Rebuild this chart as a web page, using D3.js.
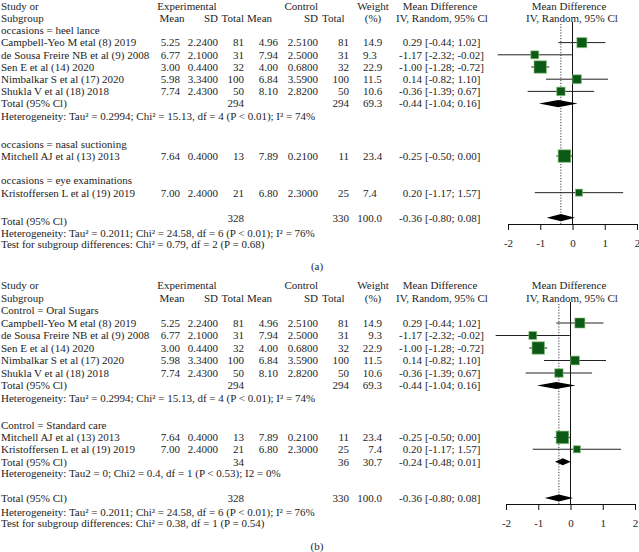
<!DOCTYPE html>
<html><head><meta charset="utf-8">
<script src="https://cdn.jsdelivr.net/npm/d3@7"></script>
<style>
body{margin:0;background:#fff}
svg text{font-family:"Liberation Serif","Times New Roman",serif;font-size:11px;fill:#1e1e1e}
</style>
</head><body>
<svg id="chart" width="639" height="552"></svg>
<script>
// ---------- data ----------
const studies = ["Campbell-Yeo M etal (8) 2019","de Sousa Freire NB et al (9) 2008","Sen E et al (14) 2020","Nimbalkar S et al (17) 2020","Shukla V et al (18) 2018","Mitchell AJ et al (13) 2013","Kristoffersen L et al (19) 2019"];
const expMean = [5.25, 6.77, 3.00, 5.98, 7.74, 7.64, 7.00];
const expSD   = [2.24, 2.10, 0.44, 3.34, 2.43, 0.40, 2.40];
const expN    = [81, 31, 32, 100, 50, 13, 21];
const ctrlMean= [4.96, 7.94, 4.00, 6.84, 8.10, 7.89, 6.80];
const ctrlSD  = [2.51, 2.50, 0.68, 3.59, 2.82, 0.21, 2.30];
const ctrlN   = [81, 31, 32, 100, 50, 11, 25];
const weights = [14.9, 9.3, 22.9, 11.5, 10.6, 23.4, 7.4];
const md      = [0.29, -1.17, -1.00, 0.14, -0.36, -0.25, 0.20];
const mdLo    = [-0.44, -2.32, -1.28, -0.82, -1.39, -0.50, -1.17];
const mdHi    = [1.02, -0.02, -0.72, 1.10, 0.67, 0.00, 1.57];

const groupsA = ["occasions = heel lance","occasions = nasal suctioning","occasions = eye examinations"];
const membersA = [[0,1,2,3,4],[5],[6]];
const groupsB = ["Control = Oral Sugars","Control = Standard care"];
const membersB = [[0,1,2,3,4],[5,6]];

// subgroup totals: heel lance / oral sugars, standard care
const subExpN  = [294, 34];
const subCtrlN = [294, 36];
const subW     = [69.3, 30.7];
const subMD    = [-0.44, -0.24];
const subLo    = [-1.04, -0.48];
const subHi    = [0.16, 0.01];
const subHet   = ["Heterogeneity: Tau\u00b2 = 0.2994; Chi\u00b2 = 15.13, df = 4 (P < 0.01); I\u00b2 = 74%",
                  "Heterogeneity: Tau2 = 0; Chi2 = 0.4, df = 1 (P < 0.53); I2 = 0%"];

const totExpN = 328, totCtrlN = 330, totW = 100.0, totMD = -0.36, totLo = -0.80, totHi = 0.08;
const totHet = "Heterogeneity: Tau\u00b2 = 0.2011; Chi\u00b2 = 24.58, df = 6 (P < 0.01); I\u00b2 = 76%";
const testA = "Test for subgroup differences: Chi\u00b2 = 0.79, df = 2 (P = 0.68)";
const testB = "Test for subgroup differences: Chi\u00b2 = 0.38, df = 1 (P = 0.54)";
const tickValues = [-2, -1, 0, 1, 2];
const panelLabels = ["(a)", "(b)"];

// ---------- helpers ----------
const loc = d3.formatLocale({decimal:".", thousands:",", grouping:[3], currency:["",""], minus:"-"});
const f2 = loc.format(".2f"), f4 = loc.format(".4f"), f1 = loc.format(".1f"), fT = loc.format("d");
const svg = d3.select("#chart");

const col = {study:1, expMean:180, expSD:218, expN:244, ctrlMean:278, ctrlSD:318, ctrlN:349,
             mdEst:422, mdCI:425};

function txt(g, x, y, s, anchor){
  g.append("text").attr("x", x).attr("y", y).attr("dy", "0.35em")
   .attr("text-anchor", anchor || "start").text(s);
}

function drawPanel(cfg){
  const g = svg.append("g");
  const y = d3.scaleLinear().domain([0, 1]).range([cfg.y0, cfg.y0 + cfg.unit]);
  const x = d3.scaleLinear().domain([-2, 2]).range(cfg.xr);
  const wAnchor = cfg.weightAnchor, wX = cfg.weightAnchor === "start" ? 363 : 382;

  // headers
  txt(g, col.study, y(0), "Study or");
  txt(g, col.study, y(1), "Subgroup");
  txt(g, 187, y(0), "Experimental", "middle");
  txt(g, 172, y(1), "Mean", "middle");
  txt(g, col.expSD, y(1), "SD", "end");
  txt(g, col.expN, y(1), "Total", "end");
  txt(g, 247, y(1), "Mean", "start");
  txt(g, col.ctrlSD, y(0), "Control", "end");
  txt(g, col.ctrlSD, y(1), "SD", "end");
  txt(g, 322, y(1), "Total", "start");
  txt(g, 373, y(0), "Weight", "middle");
  txt(g, 373, y(1), "(%)", "middle");
  txt(g, 440, y(0), "Mean Difference", "middle");
  txt(g, 442, y(1), "IV, Random, 95% Cl", "middle");
  txt(g, 569, y(0), "Mean Difference", "middle");
  txt(g, 572, y(1), "IV, Random, 95% Cl", "middle");

  const plot = g.append("g");
  // reference lines
  plot.append("line").attr("x1", x(0)).attr("x2", x(0)).attr("y1", cfg.lineTop).attr("y2", cfg.axisY)
      .attr("stroke", "#111").attr("stroke-width", 1);
  plot.append("line").attr("x1", x(totMD)).attr("x2", x(totMD)).attr("y1", cfg.lineTop + 2).attr("y2", cfg.axisY)
      .attr("stroke", "#222").attr("stroke-width", 0.9).attr("stroke-dasharray", "1.2,1.6");

  function mdText(yy, est, lo, hi){
    txt(g, col.mdEst, yy, f2(est), "end");
    txt(g, col.mdCI, yy, "[" + f2(lo) + "; " + f2(hi) + "]", "start");
  }
  function diamond(yy, est, lo, hi){
    const h = 3.6;
    plot.append("path")
      .attr("d", `M${x(lo)},${yy}L${x(est)},${yy-h}L${x(hi)},${yy}L${x(est)},${yy+h}Z`)
      .attr("fill", "#000");
  }

  cfg.rows.forEach(r => {
    const yy = y(r.slot);
    if (r.type === "group") txt(g, col.study, yy, r.label);
    else if (r.type === "study") {
      const i = r.i;
      txt(g, col.study, yy, studies[i]);
      txt(g, col.expMean, yy, f2(expMean[i]), "end");
      txt(g, col.expSD, yy, f4(expSD[i]), "end");
      txt(g, col.expN, yy, fT(expN[i]), "end");
      txt(g, col.ctrlMean, yy, f2(ctrlMean[i]), "end");
      txt(g, col.ctrlSD, yy, f4(ctrlSD[i]), "end");
      txt(g, col.ctrlN, yy, fT(ctrlN[i]), "end");
      txt(g, wX, yy, f1(weights[i]), wAnchor);
      mdText(yy, md[i], mdLo[i], mdHi[i]);
      plot.append("line").attr("x1", x(mdLo[i])).attr("x2", x(mdHi[i])).attr("y1", yy).attr("y2", yy)
          .attr("stroke", "#222").attr("stroke-width", 1);
      const s = 2.6 * Math.sqrt(weights[i]);
      plot.append("rect").attr("x", x(md[i]) - s/2).attr("y", yy - s/2).attr("width", s).attr("height", s)
          .attr("fill", "#0b5a16").attr("stroke", "#8cc47c").attr("stroke-width", 1.1).attr("stroke-opacity", 0.55);
    }
    else if (r.type === "sub") {
      const k = r.k;
      txt(g, col.study, yy, "Total (95% Cl)");
      txt(g, col.expN, yy, fT(subExpN[k]), "end");
      txt(g, col.ctrlN, yy, fT(subCtrlN[k]), "end");
      txt(g, wX, yy, f1(subW[k]), wAnchor);
      mdText(yy, subMD[k], subLo[k], subHi[k]);
      diamond(yy - cfg.diaShift, subMD[k], subLo[k], subHi[k]);
    }
    else if (r.type === "het") txt(g, col.study, yy, r.label);
    else if (r.type === "total") {
      txt(g, col.study, yy, "Total (95% Cl)");
      txt(g, col.expN, yy - cfg.totNumShift, fT(totExpN), "end");
      txt(g, col.ctrlN, yy - cfg.totNumShift, fT(totCtrlN), "end");
      txt(g, 382, yy - cfg.totNumShift, f1(totW), "end");
      mdText(yy - cfg.totNumShift, totMD, totLo, totHi);
      diamond(yy - cfg.totNumShift, totMD, totLo, totHi);
    }
  });

  // axis
  const axis = d3.axisBottom(x).tickValues(tickValues).tickSize(6).tickSizeOuter(0).tickPadding(9)
      .tickFormat(loc.format("d"));
  const ag = g.append("g").attr("transform", `translate(0,${cfg.axisY})`).call(axis);
  ag.select(".domain").attr("stroke", "#111");
  ag.selectAll(".tick line").attr("stroke", "#111");
  ag.selectAll("text").attr("font-family", "Liberation Serif, serif").attr("font-size", "11px").attr("fill", "#1e1e1e");

  txt(g, 317, cfg.labelY, cfg.label, "middle");
}

drawPanel({
  y0: 6, unit: 12.2, xr: [508, 637], axisY: 224, lineTop: 22, weightAnchor: "start",
  diaShift: 0, totNumShift: 3, label: panelLabels[0], labelY: 266,
  rows: [
    {type:"group", slot:2, label:groupsA[0]},
    ...membersA[0].map((i, j) => ({type:"study", slot:3 + j, i})),
    {type:"sub", slot:8, k:0},
    {type:"het", slot:9, label:subHet[0]},
    {type:"group", slot:11.3, label:groupsA[1]},
    {type:"study", slot:12.3, i:membersA[1][0]},
    {type:"group", slot:14.3, label:groupsA[2]},
    {type:"study", slot:15.3, i:membersA[2][0]},
    {type:"total", slot:17.6},
    {type:"het", slot:18.6, label:totHet},
    {type:"het", slot:19.5, label:testA}
  ]
});

drawPanel({
  y0: 285.5, unit: 12.5, xr: [506, 635], axisY: 504, lineTop: 302, weightAnchor: "end",
  diaShift: 0, totNumShift: 0, label: panelLabels[1], labelY: 546,
  rows: [
    {type:"group", slot:2, label:groupsB[0]},
    ...membersB[0].map((i, j) => ({type:"study", slot:3 + j, i})),
    {type:"sub", slot:8, k:0},
    {type:"het", slot:9, label:subHet[0]},
    {type:"group", slot:11.2, label:groupsB[1]},
    {type:"study", slot:12.15, i:membersB[1][0]},
    {type:"study", slot:13.1, i:membersB[1][1]},
    {type:"sub", slot:14.1, k:1},
    {type:"het", slot:15.05, label:subHet[1]},
    {type:"total", slot:17.0},
    {type:"het", slot:18.1, label:totHet},
    {type:"het", slot:19.05, label:testB}
  ]
});
</script>
</body></html>
